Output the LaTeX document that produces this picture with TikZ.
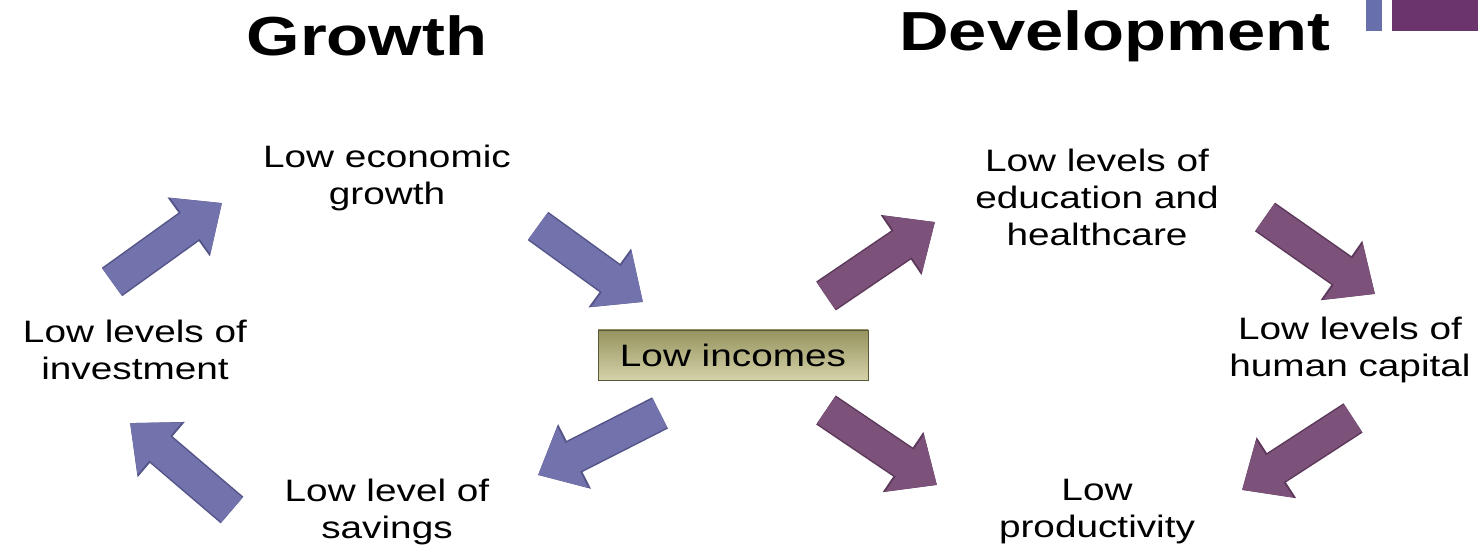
\documentclass[tikz,border=0pt]{standalone}
\usepackage{fontspec}
\setmainfont{Liberation Sans}
\usetikzlibrary{arrows.meta}

\definecolor{growblue}{RGB}{114,114,172}
\definecolor{growedge}{RGB}{84,84,136}
\definecolor{devpurple}{RGB}{124,82,122}
\definecolor{devedge}{RGB}{92,56,90}
\definecolor{olivetop}{RGB}{150,147,95}
\definecolor{olivebot}{RGB}{212,210,168}
\definecolor{barblue}{RGB}{104,112,172}
\definecolor{barpurple}{RGB}{108,52,108}

\begin{document}
\begin{tikzpicture}[x=1pt,y=1pt]
	\tikzstyle{heading} = [xscale=1.25,font=\fontsize{55}{60}\selectfont\bfseries];
	\tikzstyle{cyclelabel} = [xscale=1.25,align=center,font=\fontsize{31}{37}\selectfont];
	\tikzstyle{growarrow} = [line width=32pt,draw=growblue,-{Triangle[length=39pt,width=66pt]},
		preaction={draw=growedge,line width=35pt,-{Triangle[length=41pt,width=70pt]}}];
	\tikzstyle{devarrow} = [line width=32pt,draw=devpurple,-{Triangle[length=39pt,width=66pt]},
		preaction={draw=devedge,line width=35pt,-{Triangle[length=41pt,width=70pt]}}];

	\fill[white] (0,0) rectangle (1478,549);
	\useasboundingbox (0,0) rectangle (1478,549);
	\fill[barblue] (1366,518) rectangle (1382,549);
	\fill[barpurple] (1392,518) rectangle (1478,549);

	\node[heading] (growth) at (367,513) {Growth};
	\node[heading] (devel) at (1115,513) {Development};

	\node[cyclelabel] (lowgrowth) at (387,371) {Low economic\\growth};
	\node[cyclelabel] (lowinv) at (135,199) {Low levels of\\investment};
	\node[cyclelabel] (lowsav) at (387,37) {Low level of\\savings};
	\node[cyclelabel,draw=olivetop!60!black,top color=olivetop,bottom color=olivebot,
		minimum width=216pt,minimum height=50pt,inner sep=0pt] (lowinc) at (733,194) {Low incomes};
	\node[cyclelabel] (lowedu) at (1097,352) {Low levels of\\education and\\healthcare};
	\node[cyclelabel] (lowhuman) at (1350,199) {Low levels of\\human capital};
	\node[cyclelabel] (lowprod) at (1097,37) {Low\\productivity};

	\coordinate (a1s) at (112,267);  \coordinate (a1e) at (222,346);
	\coordinate (a2s) at (538,323);  \coordinate (a2e) at (643,247);
	\coordinate (a3s) at (660,136);  \coordinate (a3e) at (538,74);
	\coordinate (a4s) at (232,39);   \coordinate (a4e) at (130,126);
	\coordinate (p1s) at (826,253);  \coordinate (p1e) at (935,327);
	\coordinate (p2s) at (1265,332); \coordinate (p2e) at (1375,255);
	\coordinate (p3s) at (826,139);  \coordinate (p3e) at (937,64);
	\coordinate (p4s) at (1353,131); \coordinate (p4e) at (1242,59);

	\draw[growarrow] (a1s) -- (a1e);
	\draw[growarrow] (a2s) -- (a2e);
	\draw[growarrow] (a3s) -- (a3e);
	\draw[growarrow] (a4s) -- (a4e);
	\draw[devarrow] (p1s) -- (p1e);
	\draw[devarrow] (p2s) -- (p2e);
	\draw[devarrow] (p3s) -- (p3e);
	\draw[devarrow] (p4s) -- (p4e);
\end{tikzpicture}
\end{document}
